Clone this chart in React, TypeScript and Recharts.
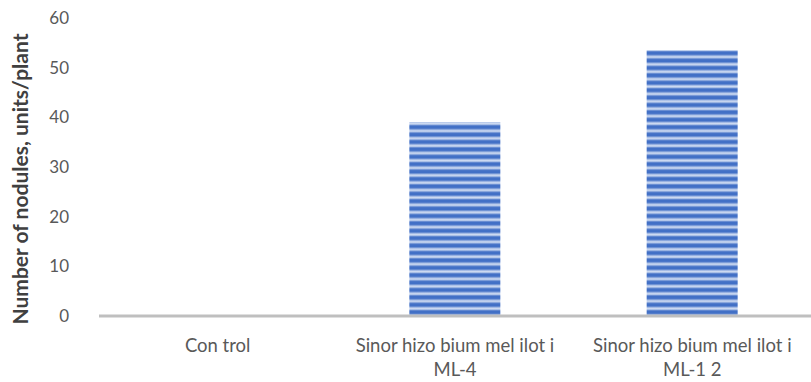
import { Bar, BarChart, XAxis, YAxis, Label } from "recharts";

const categories = ["Con trol", "Sinor hizo bium mel ilot i\nML-4", "Sinor hizo bium mel ilot i\nML-1 2"];
const nodules = [0, 39, 53.5];
const yTicks = [0, 10, 20, 30, 40, 50, 60];

const data = categories.map((name, i) => ({ name, value: nodules[i] }));

const FONT = "Lato, 'Open Sans', sans-serif";

const CategoryTick = (props: any) => {
	const { x, y, payload } = props;
	const lines: string[] = String(payload.value).split("\n");
	return (
		<text
			x={x}
			y={y}
			textAnchor="middle"
			fill="#595959"
			fontSize={18.5}
			fontFamily={FONT}
		>
			{lines.map((line, i) => (
				<tspan key={i} x={x} dy={i === 0 ? 28 : 24}>
					{line}
				</tspan>
			))}
		</text>
	);
};

export default function App() {
	return (
		<div style={{ position: "absolute", left: 0, top: 0, background: "#fff" }}>
			<BarChart
				width={811}
				height={382}
				data={data}
				margin={{ top: 18, right: 0, bottom: 0, left: 0 }}
			>
				<defs>
					<linearGradient id="stripeGrad" x1="0" y1="0" x2="0" y2="1">
						<stop offset="0%" stopColor="#4270C6" />
						<stop offset="35%" stopColor="#4270C6" />
						<stop offset="65%" stopColor="#D3DEF3" />
						<stop offset="80%" stopColor="#B8CAEB" />
						<stop offset="100%" stopColor="#4270C6" />
					</linearGradient>
					<pattern
						id="stripes"
						patternUnits="userSpaceOnUse"
						width="20"
						height="7.4"
					>
						<rect width="20" height="7.4" fill="url(#stripeGrad)" />
					</pattern>
				</defs>
				<XAxis
					dataKey="name"
					height={66}
					tickLine={false}
					axisLine={{ stroke: "#BFBFBF", strokeWidth: 3 }}
					tick={<CategoryTick />}
					interval={0}
				/>
				<YAxis
					width={99}
					domain={[0, 60]}
					ticks={yTicks}
					axisLine={false}
					tickLine={false}
					tickSize={0}
					tickMargin={30}
					tick={{ fill: "#595959", fontSize: 17, fontFamily: FONT }}
				>
					<Label
						content={() => (
							<text
								x={23}
								y={179}
								transform="rotate(-90 23 179)"
								textAnchor="middle"
								dominantBaseline="middle"
								fill="#404040"
								fontSize={21}
								fontWeight="bold"
								fontFamily={FONT}
							>
								Number of nodules, units/plant
							</text>
						)}
					/>
				</YAxis>
				<Bar
					dataKey="value"
					fill="url(#stripes)"
					barSize={91}
					isAnimationActive={false}
				/>
			</BarChart>
		</div>
	);
}
